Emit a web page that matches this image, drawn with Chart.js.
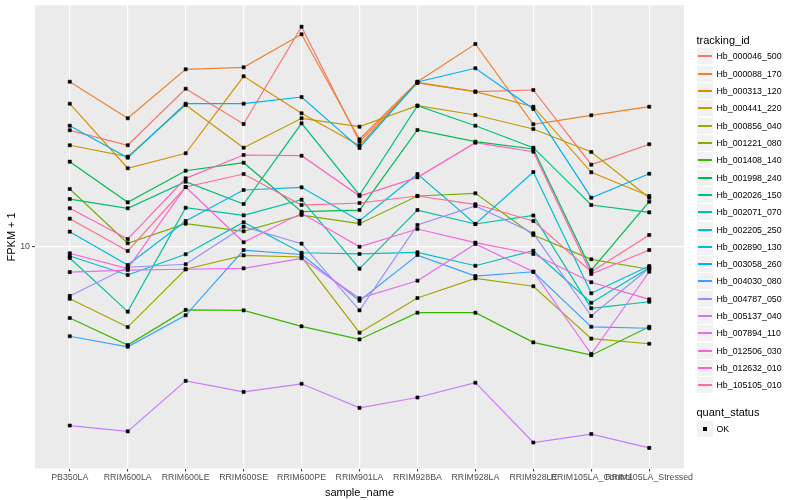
<!DOCTYPE html>
<html>
<head>
<meta charset="utf-8">
<script src="https://cdn.jsdelivr.net/npm/chart.js@4"></script>
<style>
html, body { margin: 0; padding: 0; background: #ffffff; }
#wrap { position: relative; width: 800px; height: 500px; font-family: "Liberation Sans", Arial, sans-serif; }
#c { position: absolute; left: 0; top: 0; }
.lg { position: absolute; white-space: nowrap; color: #000000; }
.key { position: absolute; background: #f2f2f2; }
.keyline { position: absolute; }
</style>
</head>
<body>
<div id="wrap">
  <canvas id="c" width="800" height="500"></canvas>
  <div id="legend"></div>
</div>
<script>
// sample names on the x axis
const samples = ["PB350LA", "RRIM600LA", "RRIM600LE", "RRIM600SE", "RRIM600PE", "RRIM901LA",
                 "RRIM928BA", "RRIM928LA", "RRIM928LE", "RRIM105LA_Control", "RRIM105LA_Stressed"];

const trackingIds = ["Hb_000046_500", "Hb_000088_170", "Hb_000313_120", "Hb_000441_220", "Hb_000856_040",
                     "Hb_001221_080", "Hb_001408_140", "Hb_001998_240", "Hb_002026_150", "Hb_002071_070",
                     "Hb_002205_250", "Hb_002890_130", "Hb_003058_260", "Hb_004030_080", "Hb_004787_050",
                     "Hb_005137_040", "Hb_007894_110", "Hb_012506_030", "Hb_012632_010", "Hb_105105_010"];

// FPKM + 1 per sample (same order as samples)
const hb000046_500 = [24.49, 21.83, 33.70, 25.70, 54.24, 22.44, 35.21, 32.94, 33.37, 18.81, 22.00];
const hb000088_170 = [35.56, 26.85, 39.12, 39.72, 51.17, 22.86, 35.56, 47.50, 25.65, 27.48, 29.35];
const hb000313_120 = [30.04, 18.30, 20.53, 37.07, 27.90, 21.79, 35.35, 32.94, 29.35, 17.74, 14.79];
const hb000441_220 = [21.83, 20.00, 29.74, 21.43, 26.85, 25.18, 29.58, 27.54, 24.74, 20.73, 14.60];
const hb000856_040 = [6.72, 5.41, 8.43, 9.38, 9.26, 5.18, 6.76, 7.86, 7.40, 4.95, 4.76];
const hb001221_080 = [15.61, 10.29, 11.96, 11.28, 12.78, 11.96, 14.79, 15.10, 10.96, 9.10, 8.43];
const hb001408_140 = [5.80, 4.71, 6.17, 6.15, 5.44, 4.92, 6.04, 6.04, 4.81, 4.36, 5.42];
const hb001998_240 = [19.25, 14.09, 17.96, 19.10, 13.11, 13.28, 24.55, 22.44, 21.22, 8.38, 14.16];
const hb002026_150 = [14.45, 13.46, 16.51, 13.91, 25.84, 14.91, 29.58, 25.37, 21.43, 13.80, 13.05];
const hb002071_070 = [9.19, 6.09, 13.52, 12.75, 14.38, 8.47, 13.28, 11.93, 12.74, 6.25, 6.57];
const hb002205_250 = [9.33, 8.07, 9.46, 12.09, 9.57, 9.48, 9.60, 8.66, 9.72, 6.52, 8.53];
const hb002890_130 = [11.25, 8.71, 12.21, 15.49, 15.81, 12.24, 17.51, 11.93, 17.78, 7.01, 8.64];
const hb003058_260 = [25.37, 19.85, 30.04, 30.04, 31.62, 21.38, 35.48, 39.42, 28.84, 14.60, 17.55];
const hb004030_080 = [5.04, 4.65, 5.92, 9.77, 9.44, 6.62, 9.40, 8.00, 8.27, 5.42, 5.36];
const hb004787_050 = [6.87, 8.56, 8.76, 11.69, 10.26, 6.15, 11.84, 13.70, 11.11, 5.89, 8.51];
const hb005137_040 = [2.54, 2.43, 3.58, 3.29, 3.50, 2.91, 3.15, 3.53, 2.23, 2.38, 2.14];
const hb007894_110 = [8.25, 8.38, 8.43, 8.49, 9.17, 6.75, 7.72, 10.23, 8.27, 4.40, 8.27];
const hb012506_030 = [9.53, 8.48, 15.85, 10.37, 12.95, 10.02, 11.48, 10.34, 9.48, 7.63, 6.69];
const hb012632_010 = [13.46, 10.63, 16.94, 20.26, 20.15, 14.79, 17.07, 22.27, 20.78, 8.13, 9.77];
const hb105105_010 = [12.43, 9.70, 15.85, 17.51, 13.80, 14.02, 14.79, 13.88, 12.21, 8.27, 10.96];

const yTickValues = [10];
const statusLabels = ["OK"];

const seriesValues = [hb000046_500, hb000088_170, hb000313_120, hb000441_220, hb000856_040,
                      hb001221_080, hb001408_140, hb001998_240, hb002026_150, hb002071_070,
                      hb002205_250, hb002890_130, hb003058_260, hb004030_080, hb004787_050,
                      hb005137_040, hb007894_110, hb012506_030, hb012632_010, hb105105_010];

// ggplot default hue palette for 20 levels
const hueColors = ["#F8766D", "#EA8331", "#D89000", "#C09B00", "#A3A500", "#7CAE00", "#39B600", "#00BB4E",
                   "#00BF7D", "#00C1A3", "#00BFC4", "#00BAE0", "#00B0F6", "#35A2FF", "#9590FF", "#C77CFF",
                   "#E76BF3", "#FA62DB", "#FF62BC", "#FF6C91"];

const FONT = "'Liberation Sans', Arial, sans-serif";

const datasets = trackingIds.map((id, i) => ({
    label: id,
    data: seriesValues[i].map((v, j) => ({ x: j, y: v })),
    borderColor: hueColors[i],
    backgroundColor: hueColors[i],
    borderWidth: 1.2,
    pointRadius: 0,
    fill: false,
    tension: 0,
    order: trackingIds.length - i
}));

// points go on top of every line, like geom_point after geom_line
datasets.push({
    label: statusLabels[0],
    data: seriesValues.flatMap(vals => vals.map((v, j) => ({ x: j, y: v }))),
    showLine: false,
    pointStyle: "rect",
    pointRadius: 2.2,
    pointBackgroundColor: "#000000",
    pointBorderColor: "#000000",
    pointBorderWidth: 0.6,
    order: -1
});

const panelBg = {
    id: "panelBg",
    beforeDraw(chart) {
        const { ctx, chartArea: a } = chart;
        ctx.save();
        ctx.fillStyle = "#ffffff";
        ctx.fillRect(0, 0, chart.width, chart.height);
        ctx.fillStyle = "#ebebeb";
        ctx.fillRect(a.left, a.top, a.right - a.left, a.bottom - a.top);
        ctx.restore();
    }
};

new Chart(document.getElementById("c"), {
    type: "line",
    data: { datasets },
    plugins: [panelBg],
    options: {
        responsive: false,
        animation: false,
        events: [],
        layout: { padding: { left: 0, right: 116, top: 5.3, bottom: 0 } },
        plugins: { legend: { display: false }, tooltip: { enabled: false } },
        scales: {
            x: {
                type: "linear", min: -0.6, max: 10.6, bounds: "data",
                afterBuildTicks: s => { s.ticks = samples.map((_, i) => ({ value: i })); },
                afterFit: s => { s.height = 31.5; s.paddingLeft = 0; s.paddingRight = 0; },
                ticks: {
                    callback: (v, i) => samples[i],
                    color: "#4d4d4d", font: { family: FONT, size: 8.8 },
                    padding: 1, autoSkip: false, maxRotation: 0, minRotation: 0
                },
                grid: { color: "#ffffff", lineWidth: 1.2, tickColor: "#333333", tickLength: 3, tickWidth: 1 },
                border: { display: false },
                title: { display: true, text: "sample_name", color: "#000000",
                         font: { family: FONT, size: 11 }, padding: { top: 4.7, bottom: 0 } }
            },
            y: {
                type: "logarithmic", min: 1.827, max: 63.92, bounds: "data",
                afterBuildTicks: s => { s.ticks = yTickValues.map(v => ({ value: v })); },
                afterFit: s => { s.width = 35; s.paddingTop = 0; s.paddingBottom = 0; },
                ticks: {
                    callback: v => String(v),
                    color: "#4d4d4d", font: { family: FONT, size: 8.8 }, padding: 2
                },
                grid: { color: "#ffffff", lineWidth: 1.2, tickColor: "#333333", tickLength: 3, tickWidth: 1 },
                border: { display: false },
                title: { display: true, text: "FPKM + 1", color: "#000000",
                         font: { family: FONT, size: 11 }, padding: { top: 5.4, bottom: 0 } }
            }
        }
    }
});

// legend (ggplot style, right side)
const legend = document.getElementById("legend");
function addText(text, left, cy, size) {
    const d = document.createElement("div");
    d.className = "lg";
    d.textContent = text;
    d.style.left = left + "px";
    d.style.top = (cy - size * 0.6) + "px";
    d.style.fontSize = size + "px";
    d.style.lineHeight = (size * 1.2) + "px";
    legend.appendChild(d);
}
function addKey(top) {
    const k = document.createElement("div");
    k.className = "key";
    k.style.left = "697px";
    k.style.top = top + "px";
    k.style.width = "16px";
    k.style.height = "16px";
    legend.appendChild(k);
}

const keyStep = 17.33;
addText("tracking_id", 696.5, 40.7, 11);
trackingIds.forEach((id, i) => {
    const top = Math.round(48.2 + i * keyStep);
    addKey(top);
    const ln = document.createElement("div");
    ln.className = "keyline";
    ln.style.left = "698px";
    ln.style.width = "14px";
    ln.style.top = (top + 7) + "px";
    ln.style.height = "2px";
    ln.style.background = hueColors[i];
    legend.appendChild(ln);
    addText(id, 716.5, top + 8, 8.8);
});

addText("quant_status", 696.5, 412.3, 11);
statusLabels.forEach((s, i) => {
    const top = Math.round(420.5 + i * keyStep);
    addKey(top);
    const dot = document.createElement("div");
    dot.className = "keyline";
    dot.style.left = "703px";
    dot.style.top = (top + 6) + "px";
    dot.style.width = "4px";
    dot.style.height = "4px";
    dot.style.background = "#000000";
    legend.appendChild(dot);
    addText(s, 716.5, top + 8, 8.8);
});
</script>
</body>
</html>
